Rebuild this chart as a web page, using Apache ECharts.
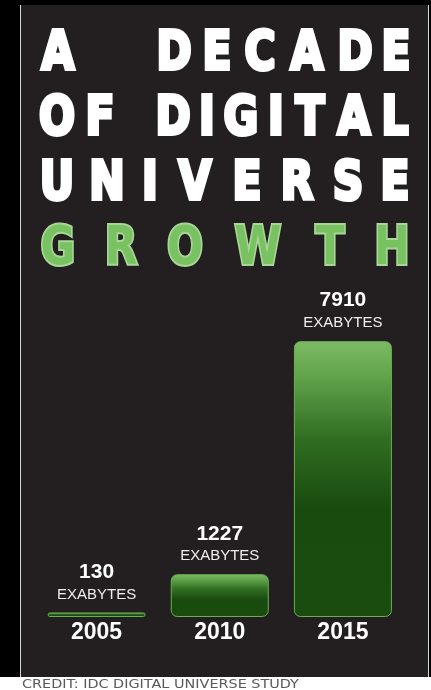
<!DOCTYPE html>
<html>
<head>
<meta charset="utf-8">
<script src="https://cdn.jsdelivr.net/npm/echarts@6/dist/echarts.min.js"></script>
<style>
html,body{margin:0;padding:0;background:#000;}
#chart{width:431px;height:690px;}
</style>
</head>
<body>
<div id="chart"></div>
<script>
// ---- data ----
const categories = ['2005', '2010', '2015'];
const values = [130, 1227, 7910];
const unitLabel = 'EXABYTES';
const titleLines = ['A DECADE', 'OF DIGITAL', 'UNIVERSE', 'GROWTH'];
const creditText = 'CREDIT: IDC DIGITAL UNIVERSE STUDY';

// ---- layout (letter centres for the justified title) ----
const titleLayout = [
  {y: 55, color: '#ffffff', stroke: '#ffffff', xs: [58, null, 174, 217, 260, 307, 355, 396]},
  {y: 120, color: '#ffffff', stroke: '#ffffff', xs: [57, 100, null, 173, 207, 241, 276, 310, 354, 395]},
  {y: 185, color: '#ffffff', stroke: '#ffffff', xs: [57, 107, 150, 195, 247, 297, 348, 395]},
  {y: 250, color: '#79c261', stroke: '#a9d698', xs: [58, 121, 185, 258, 330, 392]}
];

const chart = echarts.init(document.getElementById('chart'), null, {renderer: 'canvas'});

const graphics = [
  {type: 'rect', z: -10, shape: {x: 21, y: 5, width: 407, height: 672}, style: {fill: '#231f20'}, silent: true},
  {type: 'line', z: -9, shape: {x1: 20.5, y1: 5, x2: 20.5, y2: 677}, style: {stroke: '#d8d8d8', lineWidth: 1}},
  {type: 'line', z: -9, shape: {x1: 428.5, y1: 5, x2: 428.5, y2: 677}, style: {stroke: '#d8d8d8', lineWidth: 1}},
  {type: 'rect', z: -10, shape: {x: 0, y: 677, width: 431, height: 13}, style: {fill: '#ffffff'}},
  {type: 'text', x: 22, y: 684.5, scaleX: 1.2, style: {text: creditText, fill: '#5a5a5a', font: '12px "DejaVu Sans"', textAlign: 'left', textVerticalAlign: 'middle'}}
];

titleLines.forEach((line, li) => {
  const lay = titleLayout[li];
  line.split('').forEach((ch, ci) => {
    if (ch === ' ' || lay.xs[ci] == null) return;
    graphics.push({
      type: 'text',
      x: lay.xs[ci],
      y: lay.y,
      scaleX: 0.8,
      style: {
        text: ch,
        fill: lay.color,
        stroke: lay.stroke,
        lineWidth: 4,
        lineJoin: 'round',
        font: 'bold 53px "DejaVu Sans"',
        textAlign: 'center',
        textVerticalAlign: 'middle'
      }
    });
  });
});

const barGradient = new echarts.graphic.LinearGradient(0, 0, 0, 1, [
  {offset: 0, color: '#7cbb66'},
  {offset: 0.12, color: '#62a54c'},
  {offset: 0.35, color: '#316e22'},
  {offset: 0.6, color: '#194b0f'},
  {offset: 1, color: '#1a4c10'}
]);

chart.setOption({
  backgroundColor: '#000000',
  animation: false,
  grid: {left: 35, right: 26.5, top: 338, bottom: 73},
  xAxis: {
    type: 'category',
    data: categories,
    axisLine: {show: false},
    axisTick: {show: false},
    axisLabel: {
      color: '#ffffff',
      fontFamily: 'Liberation Sans',
      fontWeight: 'bold',
      fontSize: 23,
      margin: 4
    }
  },
  yAxis: {
    type: 'value',
    min: 0,
    max: 8000,
    show: false,
    splitLine: {show: false}
  },
  graphic: graphics,
  series: [{
    type: 'bar',
    data: values,
    barWidth: 98,
    itemStyle: {
      color: barGradient,
      borderColor: '#6aae53',
      borderWidth: 1,
      borderRadius: 6
    },
    label: {
      show: true,
      position: 'top',
      distance: 8,
      align: 'center',
      formatter: p => '{v|' + p.value + '}\n{u|' + unitLabel + '}',
      rich: {
        v: {fontFamily: 'Liberation Sans', fontWeight: 'bold', fontSize: 21, color: '#ffffff', lineHeight: 25, align: 'center'},
        u: {fontFamily: 'Liberation Sans', fontSize: 15, color: '#eeeeee', lineHeight: 20, align: 'center'}
      }
    }
  }]
});
</script>
</body>
</html>
